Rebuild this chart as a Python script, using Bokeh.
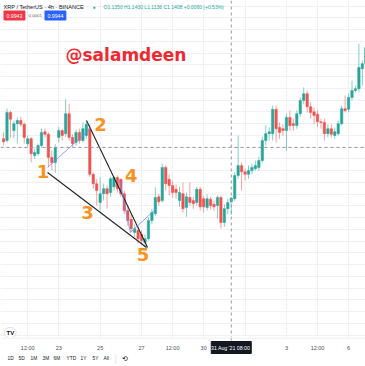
from bokeh.plotting import figure
from bokeh.models import Range1d, FixedTicker, Span, Label, ColumnDataSource
from bokeh.layouts import column
from bokeh.core.properties import value
from bokeh.embed import file_html
from bokeh.resources import INLINE
import numpy as np

# ---- data (XRP/USDT 4h candles) ----
opens = [1.236,1.233,1.278,1.249,1.260,1.265,1.259,1.228,1.236,1.209,
         1.212,1.225,1.247,1.243,1.206,1.198,1.238,1.249,1.244,1.276,
         1.238,1.230,1.246,1.233,1.241,1.252,1.179,1.164,1.134,1.148,
         1.156,1.150,1.159,1.174,1.171,1.148,1.121,1.107,1.086,1.089,
         1.083,1.070,1.076,1.105,1.116,1.143,1.137,1.190,1.171,1.161,
         1.155,1.137,1.148,1.126,1.142,1.137,1.134,1.155,1.140,1.126,
         1.139,1.131,1.129,1.142,1.102,1.124,1.135,1.140,1.177,1.193,
         1.183,1.179,1.185,1.188,1.190,1.201,1.233,1.244,1.244,1.283,
         1.254,1.252,1.249,1.270,1.260,1.257,1.276,1.297,1.308,1.287,
         1.279,1.275,1.263,1.262,1.244,1.252,1.241,1.244,1.260,1.284,
         1.283,1.302,1.313,1.316,1.348,1.356]
closes = [1.231,1.278,1.267,1.260,1.265,1.259,1.238,1.236,1.212,1.214,
          1.225,1.246,1.243,1.206,1.198,1.222,1.249,1.241,1.276,1.238,
          1.228,1.246,1.233,1.252,1.259,1.179,1.164,1.153,1.148,1.156,
          1.148,1.172,1.174,1.156,1.148,1.121,1.105,1.092,1.092,1.076,
          1.073,1.076,1.105,1.118,1.142,1.135,1.190,1.164,1.161,1.150,
          1.150,1.150,1.124,1.143,1.134,1.132,1.155,1.127,1.127,1.140,
          1.129,1.127,1.142,1.102,1.124,1.134,1.141,1.177,1.193,1.183,
          1.179,1.185,1.190,1.193,1.201,1.233,1.244,1.247,1.283,1.252,
          1.246,1.249,1.270,1.257,1.257,1.276,1.297,1.308,1.287,1.278,
          1.273,1.263,1.262,1.244,1.252,1.243,1.247,1.260,1.284,1.281,
          1.302,1.313,1.316,1.350,1.356,1.382]
highs = [1.246,1.284,1.281,1.265,1.270,1.271,1.262,1.241,1.239,1.220,
         1.228,1.252,1.252,1.246,1.217,1.227,1.255,1.252,1.299,1.292,
         1.243,1.251,1.252,1.262,1.265,1.259,1.182,1.172,1.174,1.164,
         1.161,1.175,1.177,1.177,1.172,1.153,1.129,1.115,1.099,1.095,
         1.089,1.083,1.110,1.124,1.158,1.148,1.196,1.193,1.179,1.169,
         1.163,1.159,1.166,1.150,1.166,1.143,1.159,1.159,1.145,1.147,
         1.143,1.137,1.145,1.145,1.131,1.140,1.143,1.182,1.241,1.198,
         1.188,1.193,1.196,1.201,1.207,1.239,1.257,1.254,1.289,1.289,
         1.262,1.259,1.276,1.281,1.268,1.281,1.302,1.318,1.313,1.294,
         1.286,1.281,1.268,1.268,1.259,1.259,1.254,1.265,1.289,1.305,
         1.308,1.329,1.321,1.388,1.361,1.390]
lows = [1.225,1.230,1.238,1.236,1.228,1.255,1.228,1.223,1.198,1.204,
        1.209,1.222,1.238,1.190,1.185,1.182,1.230,1.233,1.239,1.233,
        1.222,1.225,1.228,1.230,1.236,1.175,1.156,1.129,1.121,1.137,
        1.124,1.143,1.153,1.150,1.143,1.115,1.097,1.086,1.079,1.068,
        1.067,1.062,1.073,1.099,1.113,1.129,1.134,1.153,1.145,1.142,
        1.140,1.127,1.118,1.111,1.129,1.124,1.129,1.121,1.118,1.121,
        1.123,1.121,1.108,1.092,1.095,1.115,1.114,1.137,1.172,1.153,
        1.169,1.172,1.179,1.185,1.185,1.198,1.225,1.233,1.233,1.230,
        1.236,1.241,1.217,1.249,1.249,1.252,1.271,1.291,1.278,1.268,
        1.259,1.255,1.252,1.233,1.238,1.238,1.236,1.241,1.257,1.278,
        1.278,1.297,1.310,1.310,1.321,1.345]

tick_pos = [7, 16, 28, 40, 49, 58, 70, 82, 91, 100]
tick_labels = ["12:00", "23", "25", "27", "12:00", "30", "1", "3", "12:00", "6"]

# wave drawing (Elliott-style annotation), in candle index / price
wedge_upper_x = [24.05, 41.75]
wedge_upper_y = [1.265, 1.062]
wedge_lower_x = [12.75, 41.45]
wedge_lower_y = [1.182, 1.062]
wave_path_x = [[12.75, 25.2], [33.65, 36.75, 44.05]]
wave_path_y = [[1.190, 1.252], [1.169, 1.086, 1.123]]
wave_num = ["1", "2", "3", "4", "5"]
wave_num_x = [11.45, 28.1, 24.35, 37.05, 40.45]
wave_num_y = [1.183, 1.259, 1.118, 1.177, 1.051]

cross_idx = 66
cross_price = 1.222
cross_time = "31 Aug '21  08:00"
header_title = "XRP / TetherUS · 4h · BINANCE"
header_ohlc = "O1.1350 H1.1430 L1.1136 C1.1408 +0.0060 (+0.53%)"
ranges = ["1D", "5D", "1M", "3M", "6M", "YTD", "1Y", "5Y", "All"]

UP, DOWN = "#26a69a", "#ef5350"
GRID = "#f0f1f4"

idx = list(range(len(opens)))
col = [UP if c >= o else DOWN for o, c in zip(opens, closes)]
src = ColumnDataSource(dict(
    x=idx, top=[max(o, c) for o, c in zip(opens, closes)],
    bottom=[min(o, c) for o, c in zip(opens, closes)],
    high=highs, low=lows, color=col))

W, HA, HB = 365, 337, 29
xr = Range1d(-0.885, 104.91)

# ---------------- chart pane ----------------
p = figure(width=W, height=HA, output_backend="svg", toolbar_location=None,
           x_range=xr, y_range=Range1d(0.918, 1.457),
           min_border_left=0, min_border_right=0, min_border_top=0,
           min_border_bottom=0)
p.outline_line_color = None
p.background_fill_color = "white"
p.border_fill_color = "white"
p.xaxis.visible = False
p.yaxis.visible = False
p.xgrid.ticker = FixedTicker(ticks=tick_pos)
p.xgrid.grid_line_color = GRID
p.ygrid.grid_line_color = GRID
p.ygrid.ticker = FixedTicker(ticks=list(np.arange(1.448, 0.9, -0.0188)))

# crosshair
p.add_layout(Span(location=cross_price, dimension="width", line_color="#9598a1",
                  line_dash="3 3", line_width=1))
p.add_layout(Span(location=cross_idx, dimension="height", line_color="#9598a1",
                  line_dash="3 3", line_width=1))

# candles
p.segment(x0="x", x1="x", y0="low", y1="high", color="color", line_alpha=0.55,
          line_width=1, source=src)
p.vbar(x="x", width=0.7, top="top", bottom="bottom", fill_color="color",
       line_color="color", line_width=0.5, source=src)

# wave drawing
p.line(wedge_upper_x, wedge_upper_y, line_color="#222222", line_width=1.1)
p.line(wedge_lower_x, wedge_lower_y, line_color="#222222", line_width=1.1)
p.multi_line(wave_path_x, wave_path_y, line_color="#6b8cf5", line_width=1, line_alpha=0.8)
p.text(wave_num_x, wave_num_y, text=wave_num, text_color="#f7931e",
       text_font_size="18px", text_font_style="bold", text_align="center",
       text_baseline="middle", text_font=value("DejaVu Sans"))


def lab(fig, fh, x, y_top, text, **kw):
    d = dict(x=x, y=fh - y_top, x_units="screen", y_units="screen", text=text,
             text_baseline="middle", text_font="Liberation Sans")
    d.update(kw)
    fig.add_layout(Label(**d))

# header
lab(p, HA, 3, 6, header_title, text_font_size="5.6px", text_color="#131722")
lab(p, HA, 92, 6, "●", text_font_size="5px", text_color="#26a69a")
lab(p, HA, 103, 6, header_ohlc, text_font_size="5px", text_color="#26a69a")
lab(p, HA, 3, 15, "0.9943", text_font_size="5.2px", text_color="white",
    background_fill_color="#f23645", padding=3, border_radius=1)
lab(p, HA, 28, 15, "0.0001", text_font_size="4.4px", text_color="#5d606b")
lab(p, HA, 44, 15, "0.9944", text_font_size="5.2px", text_color="white",
    background_fill_color="#2962ff", padding=3, border_radius=1)

# watermark
lab(p, HA, 65, 54, "@salamdeen", text_font_size="17px", text_font_style="bold",
    text_color="#ee2a30", text_font="DejaVu Sans")

# TV logo
lab(p, HA, 4, 332, "TV", text_font_size="6px", text_font_style="bold",
    text_color="#131722", background_fill_color="white",
    border_line_color="#dfe1e6", padding=2, border_radius=5)

# ---------------- time axis + range bar pane ----------------
b = figure(width=W, height=HB, output_backend="svg", toolbar_location=None,
           x_range=xr, y_range=Range1d(0, HB),
           min_border_left=0, min_border_right=0, min_border_top=0,
           min_border_bottom=0)
b.outline_line_color = None
b.background_fill_color = "white"
b.border_fill_color = "white"
b.xaxis.visible = False
b.yaxis.visible = False
b.xgrid.visible = False
b.ygrid.visible = False

b.add_layout(Span(location=HB - 0.5, dimension="width", line_color="#e6e8ee", line_width=1))
b.segment(x0=[cross_idx], x1=[cross_idx], y0=[HB], y1=[HB - 4], line_color="#9598a1",
          line_dash="3 3", line_width=1)
b.text(tick_pos, [HB - 10] * len(tick_pos), text=tick_labels, text_align="center",
       text_baseline="middle", text_font=value("Liberation Sans"),
       text_font_size="5.5px", text_color="#4a4e5a")
b.rect(x=[cross_idx], y=[HB - 10], width=40, height=12, width_units="screen",
       fill_color="#131722", line_color="#131722")
b.text([cross_idx], [HB - 10], text=[cross_time], text_align="center",
       text_baseline="middle", text_font=value("Liberation Sans"),
       text_font_size="5.2px", text_color="white")

rx = [7, 18, 30, 42, 53, 66, 80, 92, 103]
for x, t in zip(rx, ranges):
    lab(b, HB, x, 21, t, text_font_size="4.8px", text_color="#131722")
lab(b, HB, 114, 21, "|", text_font_size="9px", text_color="#e0e3eb")
lab(b, HB, 121, 21, "⟲", text_font_size="7px", text_color="#131722")

layout = column(p, b, spacing=0)
open("out.html", "w").write(file_html(layout, INLINE))
